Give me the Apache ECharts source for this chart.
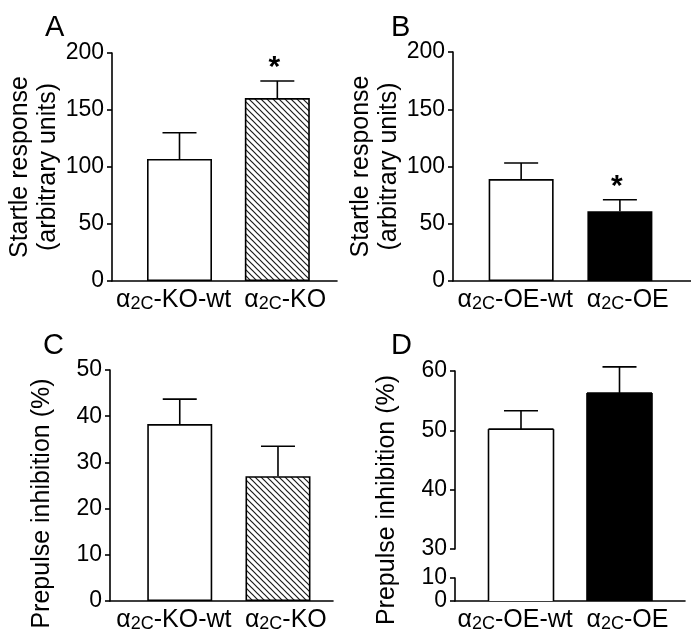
<!DOCTYPE html>
<html>
<head>
<meta charset="utf-8">
<script src="https://cdn.jsdelivr.net/npm/echarts@6/dist/echarts.min.js"></script>
<style>
html,body{margin:0;padding:0;background:#fff;}
#chart{width:691px;height:641px;}
</style>
</head>
<body>
<div id="chart"></div>
<script>
// ---- data ----
const categoriesKO = ['α2C-KO-wt', 'α2C-KO'];
const categoriesOE = ['α2C-OE-wt', 'α2C-OE'];
const startleKO = [107, 160.5];
const startleKOErr = [23, 15];
const startleKOSig = ['', '*'];
const startleOE = [89, 61];
const startleOEErr = [14, 10];
const startleOESig = ['', '*'];
const ppiKO = [38.3, 27.0];
const ppiKOErr = [5.4, 6.5];
const ppiKOSig = ['', ''];
const ppiOE = [50.2, 56.3];
const ppiOEErr = [3.1, 4.4];
const ppiOESig = ['', ''];
const startleTicks = [0, 50, 100, 150, 200];
const ppiKOTicks = [0, 10, 20, 30, 40, 50];
const ppiOEUpperTicks = [30, 40, 50, 60];
const ppiOELowerTicks = [0, 10];

// ---- styles ----
const FONT = 'Liberation Sans, Arial, sans-serif';
const TICK_FS = 23;
const CAT_FS = 25;
const NAME_FS = 25;
const LW = 1.6;
const BAR_W = 65;
// category label anchor positions (slightly spread apart, as in the figure)
const LABEL_POS = [0.94, 2.08];

function hatch() {
  const c = document.createElement('canvas');
  c.width = 6; c.height = 6;
  const g = c.getContext('2d');
  g.fillStyle = '#fff';
  g.fillRect(0, 0, 6, 6);
  g.strokeStyle = '#1a1a1a';
  g.lineWidth = 1.2;
  g.beginPath();
  g.moveTo(-1, -1); g.lineTo(7, 7);
  g.moveTo(-7, -1); g.lineTo(1, 7);
  g.moveTo(5, -1); g.lineTo(13, 7);
  g.stroke();
  return { image: c, repeat: 'repeat' };
}
const HATCH = hatch();
const fillKO = ['#ffffff', HATCH];
const fillOE = ['#ffffff', '#000000'];

const rich = {
  a: { fontSize: CAT_FS, fontFamily: FONT, color: '#000' },
  s: { fontSize: 18, fontFamily: FONT, color: '#000', padding: [7, 0, 0, 0] }
};
function catFmt(cats) {
  return function (v) {
    const i = Math.round(v) - 1;
    const s = cats[i] || '';
    return '{a|α}{s|2C}{a|' + s.slice(3) + '}';
  };
}

const grids = [
  { left: 112, top: 53, width: 225, height: 228 },   // A
  { left: 453, top: 52, width: 238, height: 229 },   // B
  { left: 110, top: 370, width: 223, height: 231 },  // C
  { left: 455, top: 371, width: 230, height: 178 },  // D upper
  { left: 455, top: 549, width: 230, height: 29 },   // D gap
  { left: 455, top: 578, width: 230, height: 23 }    // D lower
];
const xRanges = [
  [0.31, 2.61],
  [0.31, 2.72],
  [0.29, 2.56],
  [0.33, 2.665],
  [0.33, 2.665],
  [0.33, 2.665]
];
const catsFor = [categoriesKO, categoriesOE, categoriesKO, categoriesOE, categoriesOE, categoriesOE];
const showX = [true, true, true, false, false, true];

const xAxis = grids.map((g, i) => ({
  type: 'value', gridIndex: i, min: xRanges[i][0], max: xRanges[i][1],
  show: true,
  splitLine: { show: false },
  axisTick: { show: false },
  axisLine: { show: showX[i], onZero: false, lineStyle: { color: '#000', width: LW } },
  axisLabel: {
    show: showX[i], customValues: LABEL_POS, margin: 7, hideOverlap: false,
    formatter: catFmt(catsFor[i]), rich: rich
  }
}));

function yAx(i, min, max, ticks, name, extra) {
  return Object.assign({
    type: 'value', gridIndex: i, min: min, max: max,
    splitLine: { show: false },
    axisLine: { show: true, lineStyle: { color: '#000', width: LW } },
    axisTick: { show: true, customValues: ticks, length: 5, lineStyle: { color: '#000', width: LW } },
    axisLabel: { customValues: ticks, fontSize: TICK_FS, fontFamily: FONT, color: '#000', margin: 8, hideOverlap: false },
    name: name, nameLocation: 'middle', nameRotate: 90, nameGap: 56,
    nameTextStyle: { fontSize: NAME_FS, fontFamily: FONT, color: '#000', lineHeight: 28 }
  }, extra || {});
}

const yAxis = [
  yAx(0, 0, 200, startleTicks, 'Startle response\n(arbitrary units)', { nameGap: 46 }),
  yAx(1, 0, 200, startleTicks, 'Startle response\n(arbitrary units)', { nameGap: 46 }),
  yAx(2, 0, 50, ppiKOTicks, 'Prepulse inhibition (%)', { nameGap: 55,
    nameTextStyle: { fontSize: NAME_FS, fontFamily: FONT, color: '#000', padding: [0, 36, 0, 0] } }),
  yAx(3, 30, 60, ppiOEUpperTicks, 'Prepulse inhibition (%)', { nameGap: 55,
    nameTextStyle: { fontSize: NAME_FS, fontFamily: FONT, color: '#000', padding: [0, 80, 0, 0] } }),
  { type: 'value', gridIndex: 4, min: 0, max: 1, show: false },
  yAx(5, 0, 10, ppiOELowerTicks, '')
];

function barSeries(idx, vals, fills) {
  return {
    type: 'bar', xAxisIndex: idx, yAxisIndex: idx, barWidth: BAR_W, clip: true,
    data: vals.map((v, i) => ({ value: [i + 1, v], itemStyle: { color: fills[i] } })),
    itemStyle: { borderColor: '#000', borderWidth: LW },
    animation: false, silent: true
  };
}
// bar drawn in pieces across the broken axis: only the part inside this grid,
// with outline on the sides (and on top only where the bar ends inside the grid)
function brokenBarSeries(idx, vals, fills) {
  return {
    type: 'custom', xAxisIndex: idx, yAxisIndex: idx, z: 2, clip: false,
    data: vals.map((v, i) => [i + 1, v, i]),
    renderItem: function (params, api) {
      const cs = params.coordSys;
      const x = api.value(0), v = api.value(1), k = api.value(2);
      const pv = api.coord([x, v]);
      const p0 = api.coord([x, 0]);
      const top = Math.max(pv[1], cs.y);
      const bottom = Math.min(p0[1], cs.y + cs.height);
      const l = pv[0] - BAR_W / 2, r = pv[0] + BAR_W / 2;
      const st = { stroke: '#000', lineWidth: LW };
      const ch = [
        { type: 'rect', shape: { x: l, y: top, width: BAR_W, height: bottom - top }, style: { fill: fills[k] } },
        { type: 'line', shape: { x1: l, y1: top, x2: l, y2: bottom }, style: st },
        { type: 'line', shape: { x1: r, y1: top, x2: r, y2: bottom }, style: st }
      ];
      if (pv[1] >= cs.y) {
        ch.push({ type: 'line', shape: { x1: l, y1: top, x2: r, y2: top }, style: st });
      }
      return { type: 'group', children: ch };
    },
    animation: false, silent: true
  };
}
function errSeries(idx, vals, errs, sig) {
  return {
    type: 'custom', xAxisIndex: idx, yAxisIndex: idx, z: 5, clip: false,
    data: vals.map((v, i) => [i + 1, v, errs[i], i]),
    renderItem: function (params, api) {
      const x = api.value(0), v = api.value(1), e = api.value(2), k = api.value(3);
      const p0 = api.coord([x, v]);
      const p1 = api.coord([x, v + e]);
      const st = { stroke: '#000', lineWidth: LW };
      const children = [
        { type: 'line', shape: { x1: p0[0], y1: p0[1], x2: p1[0], y2: p1[1] }, style: st },
        { type: 'line', shape: { x1: p1[0] - 17, y1: p1[1], x2: p1[0] + 17, y2: p1[1] }, style: st }
      ];
      if (sig[k]) {
        children.push({ type: 'text', x: p1[0] - 3, y: p1[1] - 13,
          style: { text: sig[k], fontSize: 30, fontWeight: 'bold', fontFamily: FONT, fill: '#000',
            align: 'center', verticalAlign: 'middle' } });
      }
      return { type: 'group', children: children };
    },
    animation: false, silent: true
  };
}

const series = [
  barSeries(0, startleKO, fillKO), errSeries(0, startleKO, startleKOErr, startleKOSig),
  barSeries(1, startleOE, fillOE), errSeries(1, startleOE, startleOEErr, startleOESig),
  barSeries(2, ppiKO, fillKO), errSeries(2, ppiKO, ppiKOErr, ppiKOSig),
  brokenBarSeries(3, ppiOE, fillOE), errSeries(3, ppiOE, ppiOEErr, ppiOESig),
  brokenBarSeries(4, ppiOE, fillOE),
  brokenBarSeries(5, ppiOE, fillOE)
];

const letterStyle = { fontSize: 29, fontWeight: 'normal', fontFamily: FONT, color: '#000' };
const title = [
  { text: 'A', left: 40, top: 8, textStyle: letterStyle },
  { text: 'B', left: 386, top: 8, textStyle: letterStyle },
  { text: 'C', left: 38, top: 326, textStyle: letterStyle },
  { text: 'D', left: 386, top: 326, textStyle: letterStyle }
];

const chart = echarts.init(document.getElementById('chart'), null, { renderer: 'canvas' });
chart.setOption({
  backgroundColor: '#fff',
  animation: false,
  title: title,
  grid: grids,
  xAxis: xAxis,
  yAxis: yAxis,
  series: series
});
</script>
</body>
</html>
